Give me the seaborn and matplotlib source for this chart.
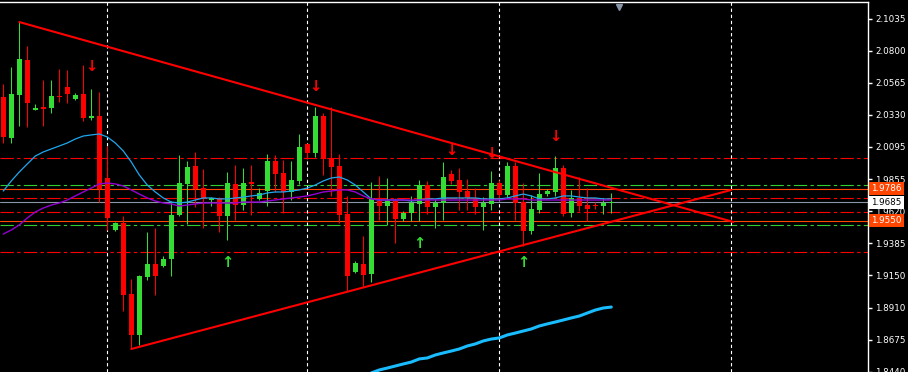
import numpy as np
import pandas as pd
import matplotlib
matplotlib.use("Agg")
import matplotlib.pyplot as plt
import matplotlib.transforms as mtransforms
import seaborn as sns

# candles (GBP-like daily prices), one entry per bar
opens = [2.0459, 2.0157, 2.0473, 2.0730, 2.0363, 2.0385, 2.0378, 2.0459, 2.0532, 2.0444,
         2.0481, 2.0304, 2.0319, 1.9864, 1.9482, 1.9533, 1.9012, 1.8711, 1.9137, 1.9232,
         1.9217, 1.9269, 1.9592, 1.9820, 1.9952, 1.9790, 1.9702, 1.9710, 1.9585, 1.9820,
         1.9665, 1.9834, 1.9710, 1.9768, 1.9989, 1.9900, 1.9761, 1.9842, 2.0113, 2.0047,
         2.0319, 2.0011, 1.9952, 1.9599, 1.9173, 1.9232, 1.9159, 1.9695, 1.9658, 1.9695,
         1.9563, 1.9607, 1.9673, 1.9812, 1.9651, 1.9680, 1.9893, 1.9849, 1.9768, 1.9717,
         1.9651, 1.9673, 1.9827, 1.9739, 1.9952, 1.9687, 1.9475, 1.9629, 1.9746, 1.9761,
         1.9937, 1.9607, 1.9717, 1.9665, 1.9665, 1.9658, 1.9680]
highs = [2.0554, 2.0679, 2.1009, 2.0833, 2.0407, 2.0583, 2.0583, 2.0664, 2.0657, 2.0488,
         2.0694, 2.0517, 2.0495, 2.0099, 1.9541, 1.9585, 1.9122, 1.9150, 1.9467, 1.9497,
         1.9291, 1.9695, 2.0033, 1.9989, 2.0055, 1.9930, 1.9724, 1.9724, 1.9908, 1.9959,
         1.9937, 1.9959, 1.9790, 2.0040, 2.0033, 1.9996, 1.9989, 2.0187, 2.0120, 2.0385,
         2.0341, 2.0385, 2.0040, 1.9732, 1.9254, 1.9438, 1.9834, 1.9878, 1.9864, 1.9717,
         1.9621, 1.9732, 1.9849, 1.9842, 1.9710, 1.9981, 1.9922, 1.9937, 1.9856, 1.9790,
         1.9724, 1.9915, 1.9849, 1.9981, 1.9981, 1.9827, 1.9739, 1.9900, 1.9783, 2.0025,
         1.9959, 1.9776, 1.9871, 1.9790, 1.9687, 1.9717, 1.9754]
lows = [2.0121, 2.0121, 2.0246, 2.0238, 2.0363, 2.0246, 2.0341, 2.0422, 2.0415, 2.0437,
        2.0282, 2.0290, 1.9687, 1.9482, 1.9475, 1.8887, 1.8608, 1.8637, 1.9115, 1.9004,
        1.9210, 1.9144, 1.9585, 1.9526, 1.9651, 1.9497, 1.9658, 1.9467, 1.9408, 1.9555,
        1.9629, 1.9592, 1.9702, 1.9658, 1.9761, 1.9607, 1.9702, 1.9820, 2.0000, 2.0018,
        1.9886, 1.9732, 1.9533, 1.9034, 1.9166, 1.9071, 1.9100, 1.9555, 1.9519, 1.9386,
        1.9548, 1.9548, 1.9548, 1.9599, 1.9497, 1.9555, 1.9820, 1.9629, 1.9629, 1.9599,
        1.9482, 1.9629, 1.9710, 1.9717, 1.9555, 1.9364, 1.9452, 1.9607, 1.9732, 1.9732,
        1.9585, 1.9577, 1.9621, 1.9548, 1.9636, 1.9599, 1.9607]
closes = [2.0165, 2.0481, 2.0738, 2.0415, 2.0378, 2.0370, 2.0466, 2.0455, 2.0481, 2.0473,
          2.0304, 2.0319, 1.9783, 1.9570, 1.9533, 1.9004, 1.8711, 1.9144, 1.9232, 1.9144,
          1.9269, 1.9592, 1.9827, 1.9945, 1.9783, 1.9710, 1.9717, 1.9585, 1.9827, 1.9665,
          1.9827, 1.9820, 1.9754, 1.9989, 1.9893, 1.9761, 1.9849, 2.0091, 2.0047, 2.0319,
          2.0003, 1.9945, 1.9592, 1.9144, 1.9240, 1.9151, 1.9710, 1.9658, 1.9695, 1.9563,
          1.9607, 1.9680, 1.9812, 1.9651, 1.9680, 1.9871, 1.9842, 1.9761, 1.9717, 1.9651,
          1.9680, 1.9827, 1.9739, 1.9952, 1.9680, 1.9475, 1.9636, 1.9746, 1.9768, 1.9937,
          1.9599, 1.9717, 1.9658, 1.9636, 1.9658, 1.9680, 1.9685]

# moving averages
ma_fast = [1.9768, 1.9842, 1.9908, 1.9967, 2.0025, 2.0055, 2.0077, 2.0099, 2.0121, 2.0150,
           2.0172, 2.0180, 2.0187, 2.0165, 2.0121, 2.0062, 1.9981, 1.9886, 1.9812, 1.9761,
           1.9717, 1.9687, 1.9680, 1.9687, 1.9702, 1.9717, 1.9717, 1.9710, 1.9710, 1.9717,
           1.9724, 1.9732, 1.9739, 1.9754, 1.9761, 1.9761, 1.9768, 1.9776, 1.9790, 1.9812,
           1.9842, 1.9864, 1.9871, 1.9849, 1.9812, 1.9761, 1.9710, 1.9702, 1.9702, 1.9702,
           1.9702, 1.9695, 1.9702, 1.9710, 1.9710, 1.9717, 1.9717, 1.9717, 1.9717, 1.9717,
           1.9710, 1.9710, 1.9710, 1.9717, 1.9732, 1.9746, 1.9732, 1.9710, 1.9710, 1.9717,
           1.9732, 1.9732, 1.9724, 1.9717, 1.9717, 1.9710, 1.9710]
ma_slow = [1.9452, 1.9482, 1.9519, 1.9570, 1.9614, 1.9643, 1.9665, 1.9680, 1.9702, 1.9732,
           1.9761, 1.9790, 1.9820, 1.9827, 1.9820, 1.9805, 1.9776, 1.9746, 1.9717, 1.9695,
           1.9680, 1.9673, 1.9658, 1.9665, 1.9673, 1.9680, 1.9680, 1.9680, 1.9680, 1.9680,
           1.9687, 1.9687, 1.9687, 1.9695, 1.9702, 1.9710, 1.9717, 1.9724, 1.9732, 1.9746,
           1.9761, 1.9768, 1.9776, 1.9776, 1.9761, 1.9732, 1.9710, 1.9702, 1.9702, 1.9702,
           1.9702, 1.9702, 1.9702, 1.9702, 1.9702, 1.9702, 1.9702, 1.9702, 1.9702, 1.9702,
           1.9702, 1.9702, 1.9702, 1.9710, 1.9710, 1.9710, 1.9702, 1.9702, 1.9702, 1.9702,
           1.9702, 1.9702, 1.9702, 1.9702, 1.9702, 1.9702, 1.9702]
ma_long_start = 46
ma_long = [1.8432, 1.8454, 1.8468, 1.8483, 1.8498, 1.8512, 1.8535, 1.8542, 1.8564, 1.8579,
           1.8593, 1.8608, 1.8630, 1.8645, 1.8667, 1.8681, 1.8689, 1.8711, 1.8725, 1.8740,
           1.8755, 1.8777, 1.8792, 1.8806, 1.8821, 1.8836, 1.8850, 1.8872, 1.8894, 1.8909,
           1.8916]

# triangle trend lines (bar index, price)
upper_trend_idx = [2, 91.25]
upper_trend_px = [2.1009, 1.9541]
lower_trend_idx = [16, 91]
lower_trend_px = [1.8608, 1.9776]

# horizontal levels
red_levels = [2.0011, 1.9715, 1.9612, 1.9318]
green_levels = [1.9812, 1.9516]
orange_levels = [1.9786, 1.9550]
last_price = 1.9685

separators = [13, 38, 62, 91]

fractal_up_idx = [11, 39, 56, 61, 69]
fractal_up_px = [2.0679, 2.0539, 2.0062, 2.0047, 2.0172]
fractal_dn_idx = [28, 52, 65]
fractal_dn_px = [1.9240, 1.9386, 1.9240]

yticks = [2.1035, 2.0800, 2.0565, 2.0330, 2.0095, 1.9855, 1.9620,
          1.9385, 1.9150, 1.8910, 1.8675, 1.8440]

sns.set_style("dark", {"axes.facecolor": "black", "figure.facecolor": "black"})
plt.rcParams["font.family"] = ["DejaVu Sans"]

bull = "#33dd33"
bear = "#ff0000"

df = pd.DataFrame({"o": opens, "h": highs, "l": lows, "c": closes})
df["i"] = np.arange(len(df))
df["up"] = df["c"] >= df["o"]

fig = plt.figure(figsize=(9.08, 3.72), dpi=100)
ax = fig.add_axes([0, 0, 868 / 908, 370.5 / 372])
ax.set_facecolor("black")

# levels
dd = (0, (12, 3, 3, 3))
for p in red_levels:
    ax.axhline(p, color=bear, lw=0.8, ls=dd, zorder=1)
for p in green_levels:
    ax.axhline(p, color="#32cd32", lw=0.8, ls=dd, zorder=1)
for p in orange_levels:
    ax.axhline(p, color="#ff4500", lw=0.8, zorder=1)
ax.axhline(last_price, color="#8896a8", lw=0.8, zorder=1)
for s in separators:
    ax.axvline(s, color="white", lw=0.8, ls=(0, (3, 2.5)), zorder=1)

# candles
for _, r in df.iterrows():
    col = bull if r["up"] else bear
    ax.vlines(r["i"], r["l"], r["h"], color=col, lw=0.75, zorder=3)
    lo = min(r["o"], r["c"])
    hgt = max(abs(r["c"] - r["o"]), 0.0008)
    ax.bar(r["i"], hgt, bottom=lo, width=0.62, color=col, lw=0, zorder=3)

# moving averages
sns.lineplot(x=np.arange(len(ma_fast)), y=ma_fast, ax=ax, color="#1ea8f0", lw=0.9, zorder=4)
sns.lineplot(x=np.arange(len(ma_slow)), y=ma_slow, ax=ax, color="#9400d3", lw=1.0, zorder=4)
sns.lineplot(x=np.arange(ma_long_start, ma_long_start + len(ma_long)), y=ma_long, ax=ax,
             color="#18bcff", lw=2.2, zorder=4)

# trend lines
ax.plot(upper_trend_idx, upper_trend_px, color=bear, lw=1.5, zorder=5)
ax.plot(lower_trend_idx, lower_trend_px, color=bear, lw=1.5, zorder=5)

# fractal arrows
for i, p in zip(fractal_up_idx, fractal_up_px):
    ax.text(i, p, "↓", color=bear, fontsize=10.5, fontweight="bold", ha="center", va="center", zorder=6)
for i, p in zip(fractal_dn_idx, fractal_dn_px):
    ax.text(i, p, "↑", color=bull, fontsize=10.5, fontweight="bold", ha="center", va="center", zorder=6)

# shift marker
blend = mtransforms.blended_transform_factory(ax.transData, ax.transAxes)
ax.plot([77.0], [0.985], marker="v", ms=5, color="#8896a8", transform=blend, clip_on=False, zorder=6)

ax.set_xlim(-0.4125, 108.09)
ax.set_ylim(1.84390, 2.11599)

ax.yaxis.tick_right()
ax.set_yticks(yticks)
ax.set_yticklabels([f"{t:.4f}" for t in yticks])
ax.tick_params(axis="y", colors="white", length=3, width=1, labelsize=6.3, pad=2, direction="out")
ax.set_xticks([])
ax.grid(False)
for side in ["left", "bottom"]:
    ax.spines[side].set_visible(False)
for side in ["top", "right"]:
    ax.spines[side].set_visible(True)
    ax.spines[side].set_color("white")
    ax.spines[side].set_linewidth(1)

# price tags
tag = mtransforms.blended_transform_factory(ax.transAxes, ax.transData)
for p in orange_levels:
    ax.text(1.0035, p, f"{p:.4f}", transform=tag, color="white", fontsize=6.3, va="center", ha="left",
            bbox=dict(boxstyle="square,pad=0.25", fc="#ff4500", ec="none"), clip_on=False, zorder=10)
ax.text(1.0035, last_price, f"{last_price:.4f}", transform=tag, color="black", fontsize=6.3, va="center",
        ha="left", bbox=dict(boxstyle="square,pad=0.25", fc="white", ec="none"), clip_on=False, zorder=10)

fig.savefig("out.png", dpi=100, facecolor="black")
